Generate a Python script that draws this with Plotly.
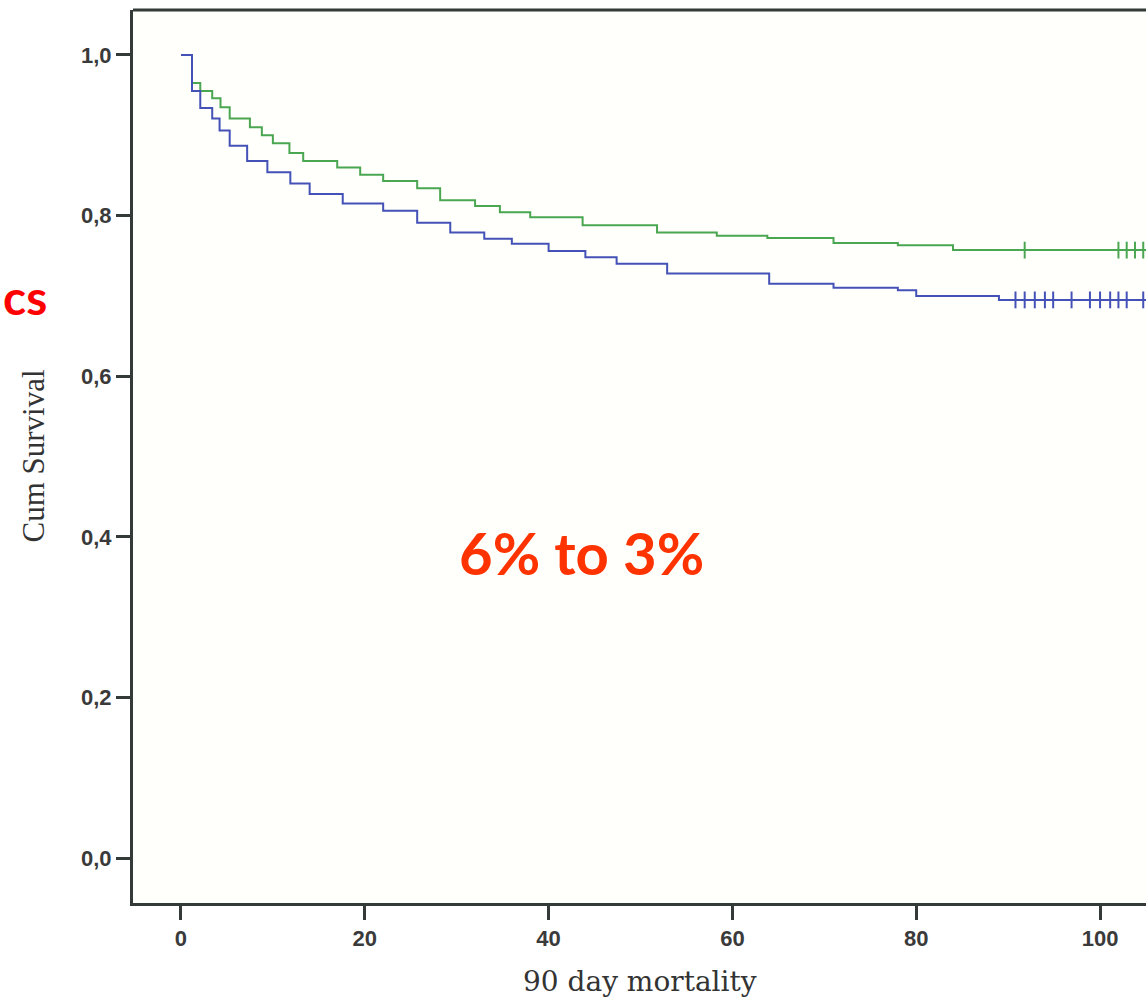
import plotly.graph_objects as go

# ---- data ----
green_t = [0, 1.2, 2.1, 3.4, 4.3, 5.3, 7.5, 8.8, 10.0, 11.8, 13.3, 17.0, 19.5, 22.0, 25.7,
           28.2, 32.0, 34.7, 38.0, 43.7, 51.8, 58.3, 63.8, 71.0, 78.0, 84.0, 106]
green_s = [1.000, 0.965, 0.955, 0.946, 0.935, 0.921, 0.910, 0.900, 0.890, 0.878, 0.868, 0.860,
           0.851, 0.843, 0.834, 0.819, 0.812, 0.804, 0.798, 0.788, 0.779, 0.775, 0.772, 0.766,
           0.763, 0.757, 0.757]
green_cens_t = [91.8, 102.0, 102.9, 103.8, 104.7]
green_cens_s = [0.757] * len(green_cens_t)

blue_t = [0, 1.2, 2.1, 3.4, 4.2, 5.3, 7.2, 9.4, 11.9, 14.0, 17.6, 22.0, 25.7, 29.3, 33.0,
          36.0, 40.0, 44.0, 47.4, 52.9, 64.0, 71.0, 78.0, 80.0, 89.0, 106]
blue_s = [1.000, 0.955, 0.934, 0.921, 0.906, 0.887, 0.868, 0.854, 0.840, 0.827, 0.815, 0.806,
          0.791, 0.779, 0.771, 0.765, 0.756, 0.748, 0.740, 0.728, 0.715, 0.710, 0.707, 0.700,
          0.695, 0.695]
blue_cens_t = [90.8, 91.8, 92.9, 94.0, 94.9, 96.9, 98.9, 100.0, 101.1, 102.0, 102.9, 104.7]
blue_cens_s = [0.695] * len(blue_cens_t)

x_ticks = [0, 20, 40, 60, 80, 100]
y_ticks = [0.0, 0.2, 0.4, 0.6, 0.8, 1.0]
y_tick_labels = ["0,0", "0,2", "0,4", "0,6", "0,8", "1,0"]

GREEN = "#4aa651"
BLUE = "#4452b8"
AXIS = "#333a38"
TICKFONT = dict(family="Liberation Sans", size=22, color="#3a3a3a", weight="bold")

fig = go.Figure()
fig.add_trace(go.Scatter(x=green_t, y=green_s, mode="lines", line=dict(color=GREEN, width=2, shape="hv"),
                         showlegend=False, hoverinfo="skip"))
fig.add_trace(go.Scatter(x=blue_t, y=blue_s, mode="lines", line=dict(color=BLUE, width=2, shape="hv"),
                         showlegend=False, hoverinfo="skip"))
fig.add_trace(go.Scatter(x=green_cens_t, y=green_cens_s, mode="markers",
                         marker=dict(symbol="line-ns", size=12, line=dict(color=GREEN, width=2)),
                         showlegend=False, hoverinfo="skip"))
fig.add_trace(go.Scatter(x=blue_cens_t, y=blue_cens_s, mode="markers",
                         marker=dict(symbol="line-ns", size=12, line=dict(color=BLUE, width=2)),
                         showlegend=False, hoverinfo="skip"))

fig.update_layout(
    width=1146, height=999,
    margin=dict(l=133, r=0, t=10, b=96),
    paper_bgcolor="white",
    plot_bgcolor="#fffffb",
    xaxis=dict(range=[-5.22, 105.0], tickvals=x_ticks, showgrid=False, zeroline=False,
               showline=True, linecolor=AXIS, linewidth=3, ticks="outside", ticklen=14,
               tickwidth=3, tickcolor=AXIS, tickfont=TICKFONT),
    yaxis=dict(range=[-0.056, 1.056], tickvals=y_ticks, ticktext=y_tick_labels, showgrid=False,
               zeroline=False, showline=True, linecolor=AXIS, linewidth=3, ticks="outside",
               ticklen=14, tickwidth=3, tickcolor=AXIS, tickfont=TICKFONT),
    shapes=[dict(type="line", xref="paper", yref="paper", x0=0, x1=1, y0=1, y1=1,
                 line=dict(color=AXIS, width=3))],
    annotations=[
        dict(text="90 day mortality", xref="paper", yref="paper", x=0.5, y=0, yshift=-78,
             xanchor="center", yanchor="middle", showarrow=False,
             font=dict(family="DejaVu Serif", size=28, color="#333333")),
        dict(text="Cum Survival", xref="paper", yref="paper", x=0, xshift=-100, y=0.5,
             xanchor="center", yanchor="middle", textangle=-90, showarrow=False,
             font=dict(family="Liberation Serif", size=31, color="#333333")),
        dict(text="<b>cs</b>", xref="paper", yref="paper", x=0, xshift=-86, y=1, yshift=-286,
             xanchor="right", yanchor="middle", showarrow=False, borderpad=0, borderwidth=0,
             font=dict(family="Lato", size=48, color="#ff0000")),
        dict(text="<b>6% to 3%</b>", xref="paper", yref="paper", x=0, xshift=448, y=1, yshift=-542,
             xanchor="center", yanchor="middle", showarrow=False,
             font=dict(family="Lato", size=58, color="#ff3300")),
    ],
)

fig.write_html("out.html", config={"displayModeBar": False},
               post_script="document.body.style.margin='0';document.body.style.overflow='hidden';")
